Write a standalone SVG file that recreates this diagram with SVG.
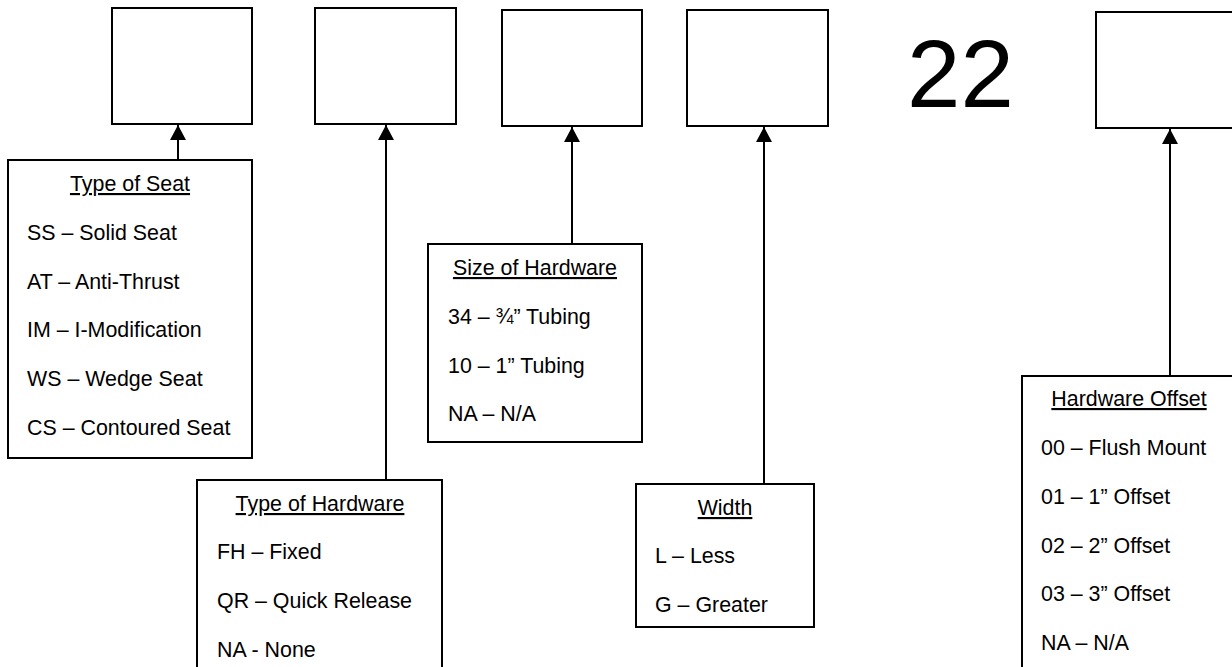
<svg xmlns="http://www.w3.org/2000/svg" width="1232" height="667" viewBox="0 0 1232 667">
<style>
.box{fill:#fff;stroke:#000;stroke-width:2}
.t{font-family:"Liberation Sans",Arial,sans-serif;font-size:21.4px;fill:#000}
.h{text-anchor:middle;text-decoration:underline}
.c{stroke:#000;stroke-width:2;fill:none}
</style>
<defs>
<marker id="ah" markerUnits="userSpaceOnUse" markerWidth="16" markerHeight="16" viewBox="0 0 16 16" refX="15" refY="8" orient="auto">
<path d="M0,0 L15,8 L0,16 Z" fill="#000"/>
</marker>
</defs>
<rect width="1232" height="667" fill="#fff"/>
<g id="code1"><rect class="box" x="112" y="8" width="140" height="116"/></g>
<g id="code2"><rect class="box" x="315" y="8" width="141" height="116"/></g>
<g id="code3"><rect class="box" x="502" y="10" width="140" height="116"/></g>
<g id="code4"><rect class="box" x="687" y="10" width="141" height="116"/></g>
<g id="fixed22"><text x="907" y="107" font-family="Liberation Sans, Arial, sans-serif" font-size="96">22</text></g>
<g id="code5"><rect class="box" x="1096" y="12" width="140" height="116"/></g>
<g id="connectors">
<line class="c" x1="178" y1="160" x2="178" y2="125" marker-end="url(#ah)"/>
<line class="c" x1="386" y1="480" x2="386" y2="125" marker-end="url(#ah)"/>
<line class="c" x1="572" y1="244" x2="572" y2="127" marker-end="url(#ah)"/>
<line class="c" x1="764" y1="484" x2="764" y2="127" marker-end="url(#ah)"/>
<line class="c" x1="1170" y1="376" x2="1170" y2="129" marker-end="url(#ah)"/>
</g>
<g id="typeOfSeat">
<rect class="box" x="8" y="160" width="244" height="298"/>
<text class="t h" x="130" y="191">Type of Seat</text>
<text class="t" x="27" y="240">SS – Solid Seat</text>
<text class="t" x="27" y="289">AT – Anti-Thrust</text>
<text class="t" x="27" y="337">IM – I-Modification</text>
<text class="t" x="27" y="386">WS – Wedge Seat</text>
<text class="t" x="27" y="435">CS – Contoured Seat</text>
</g>
<g id="typeOfHardware">
<rect class="box" x="197" y="480" width="245" height="200"/>
<text class="t h" x="320" y="511">Type of Hardware</text>
<text class="t" x="217" y="559">FH – Fixed</text>
<text class="t" x="217" y="608">QR – Quick Release</text>
<text class="t" x="217" y="657">NA - None</text>
</g>
<g id="sizeOfHardware">
<rect class="box" x="428" y="244" width="214" height="198"/>
<text class="t h" x="535" y="275">Size of Hardware</text>
<text class="t" x="448" y="324">34 – ¾” Tubing</text>
<text class="t" x="448" y="373">10 – 1” Tubing</text>
<text class="t" x="448" y="421">NA – N/A</text>
</g>
<g id="width">
<rect class="box" x="636" y="484" width="178" height="143"/>
<text class="t h" x="725" y="515">Width</text>
<text class="t" x="655" y="563">L – Less</text>
<text class="t" x="655" y="612">G – Greater</text>
</g>
<g id="hardwareOffset">
<rect class="box" x="1022" y="376" width="214" height="310"/>
<text class="t h" x="1129" y="406">Hardware Offset</text>
<text class="t" x="1041" y="455">00 – Flush Mount</text>
<text class="t" x="1041" y="504">01 – 1” Offset</text>
<text class="t" x="1041" y="553">02 – 2” Offset</text>
<text class="t" x="1041" y="601">03 – 3” Offset</text>
<text class="t" x="1041" y="650">NA – N/A</text>
</g>
</svg>
